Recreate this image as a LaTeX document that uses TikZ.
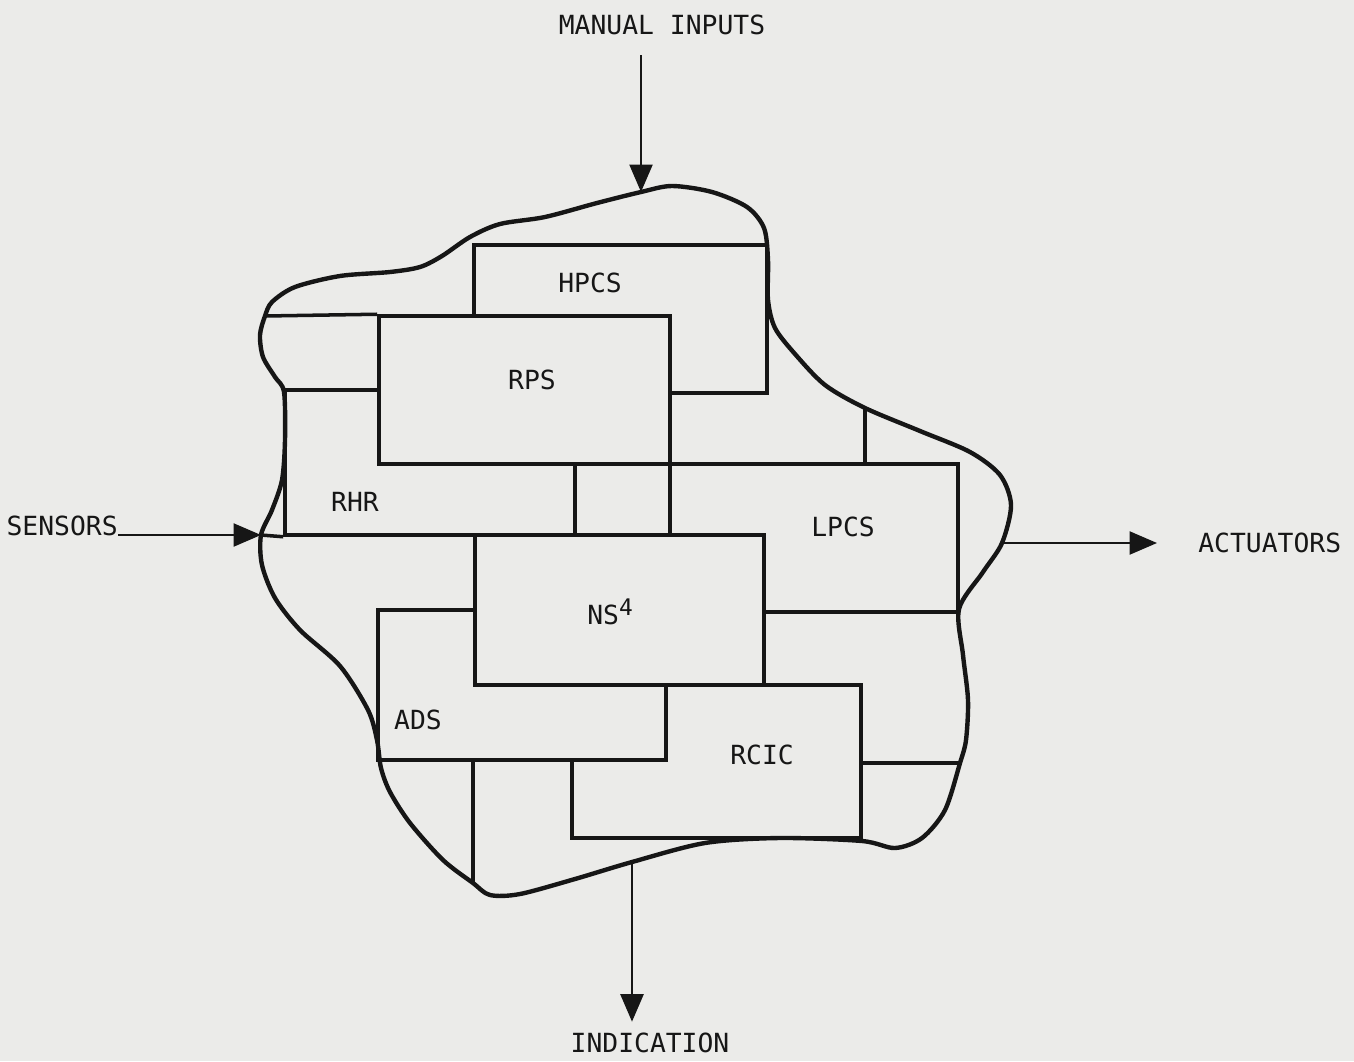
\documentclass[tikz,border=0pt]{standalone}
\usepackage{fontspec}
\usetikzlibrary{arrows.meta,fit}
\newfontfamily\lettering{DejaVu Sans Mono}
\definecolor{paper}{RGB}{235,235,233}
\definecolor{ink}{RGB}{22,22,22}
\tikzset{
  blk/.style={draw=ink,fill=paper,line width=2pt,inner sep=0pt},
  tag/.style={font=\lettering\fontsize{15}{18}\selectfont,text=ink,inner sep=0pt},
  flow/.style={draw=ink,line width=1.4pt,-{Triangle[length=0.55cm,width=0.46cm]}},
  rule/.style={draw=ink,line width=2pt},
}

\begin{document}
\begin{tikzpicture}[x=0.02cm,y=-0.02cm]
  \fill[paper] (0,0) rectangle (1354,1061);
  \coordinate (tin) at (641,192);
  \coordinate (br1) at (865,408);
  \coordinate (eout) at (1002,543);
  \coordinate (br3) at (960,763);
  \coordinate (bout) at (632,862);
  \coordinate (bb1) at (473,883);
  \coordinate (win) at (261,535);
  \coordinate (bl1) at (265,316);

  \node[blk,fit={(474,245) (767,393)}] (hpcs) {};
  \node[blk,fit={(285,390) (575,535)}] (rhr) {};
  \node[blk,fit={(670,464) (958,612)}] (lpcs) {};
  \node[blk,fit={(572,685) (861,838)}] (rcic) {};
  \node[blk,fit={(379,316) (670,464)}] (rps) {};
  \node[blk,fit={(378,610) (666,760)}] (ads) {};
  \node[blk,fit={(475,535) (764,685)}] (ns) {};

  \node[tag] (hpcs-t) at (590,283) {HPCS};
  \node[tag] (rps-t) at (532,380) {RPS};
  \node[tag] (rhr-t) at (355,502) {RHR};
  \node[tag] (lpcs-t) at (843,527) {LPCS};
  \node[tag] (ns-t) at (610,612) {NS\raisebox{5.5pt}{\fontsize{13}{13}\selectfont 4}};
  \node[tag] (ads-t) at (418,720) {ADS};
  \node[tag] (rcic-t) at (762,755) {RCIC};

  \draw[rule] (bl1) -- (rps.north west);
  \draw[rule] (win) -- (rhr.south west);
  \draw[rule] (br1) -- (br1 |- lpcs.north);
  \draw[rule] (br3) -- (br3 -| rcic.east);
  \draw[rule] (bb1) -- (bb1 |- ads.south);

  \draw[ink,line width=2.5pt] plot[smooth cycle] coordinates {
    (tin) (672,186) (712,192) (747,207) (764,228) (768,260) (768,300)
    (775,328) (795,354) (825,385) (br1) (920,431) (970,452) (1000,475)
    (1011,505) (eout) (983,572) (959,609) (963,655) (968,700) (966,740)
    (br3) (945,810) (922,838) (895,848) (862,841) (780,838) (705,843)
    (bout) (575,879) (520,894) (490,895) (bb1) (443,860) (410,823)
    (390,792) (381,768) (377,740) (368,710) (340,666) (300,630) (275,598)
    (262,565) (win) (272,510) (282,480) (285,440) (284,392) (275,377)
    (263,357) (260,335) (bl1) (272,302) (295,287) (340,276) (390,272)
    (420,267) (442,256) (470,237) (500,224) (545,217) (597,203)};

  \node[tag] (man) at (662,25) {MANUAL INPUTS};
  \node[tag,anchor=base east] (sens) at (118,535) {SENSORS};
  \node[tag,anchor=west] (act) at (1198,543) {ACTUATORS};
  \node[tag] (ind) at (650,1043) {INDICATION};

  \draw[flow,shorten <=0.4cm] (man.south -| tin) -- (tin);
  \draw[flow] (sens.base east) -- (win);
  \draw[flow,shorten >=0.82cm] (eout) -- (act.west |- eout);
  \draw[flow,shorten >=0.22cm] (bout) -- (ind.north -| bout);
\end{tikzpicture}
\end{document}
